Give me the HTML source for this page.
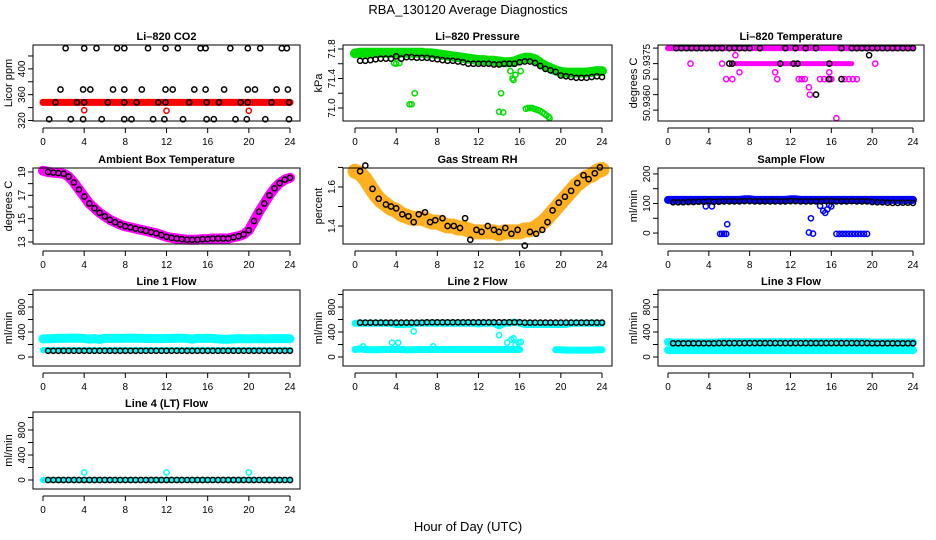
<!DOCTYPE html>
<html><head><meta charset="utf-8">
<style>
body{margin:0;background:#fff;}
svg{display:block;font-family:"Liberation Sans",Arial,sans-serif;}
</style></head>
<body>
<svg id="c" width="936" height="540" viewBox="0 0 936 540">
<text x="468" y="14" text-anchor="middle" font-size="13">RBA_130120  Average Diagnostics</text>
<text x="468" y="531" text-anchor="middle" font-size="13">Hour of Day (UTC)</text>
</svg>
<script>
// ---------- data ----------
const xTicks=[0,4,8,12,16,20,24];
const H=[0,0.5,1,1.5,2,2.5,3,3.5,4,4.5,5,5.5,6,6.5,7,7.5,8,8.5,9,9.5,10,10.5,11,11.5,12,12.5,13,13.5,14,14.5,15,15.5,16,16.5,17,17.5,18,18.5,19,19.5,20,20.5,21,21.5,22,22.5,23,23.5,24];
// CO2
const co2Red=[348,348,348,348,348,348,348,348,348,348,348,348,348,348,348,348,348,348,348,348,348,348,348,348,348,348,348,348,348,348,348,348,348,348,348,348,348,348,348,348,348,348,348,348,348,348,348,348,348];
const co2RedOutT=[4,12,20];
const co2RedOutV=[336,335,335];
const co2BlackT=[2.2,4.0,5.2,7.2,7.9,10.2,11.9,13.1,15.3,15.8,18.2,19.9,21.1,23.2,23.7, 1.7,3.9,4.6,6.8,7.9,9.6,11.9,12.6,14.7,15.8,17.6,19.9,20.6,22.7,23.8, 1.2,3.3,4.0,6.3,7.9,9.1,11.2,11.9,14.2,15.9,17.1,19.2,19.9,22.2,23.9, 0.6,2.7,3.9,5.7,7.9,8.6,10.7,11.8,13.6,15.9,16.6,18.7,19.8,21.6,23.9];
const co2BlackV=[432,432,432,432,432,432,432,432,432,432,432,432,432,432,432, 368,368,368,368,368,368,368,368,368,368,368,368,368,368,368, 348,348,348,348,348,348,348,348,348,348,348,348,348,348,348, 322,322,322,322,322,322,322,322,322,322,322,322,322,322,322];
// Pressure
const presGreen=[71.74,71.75,71.75,71.75,71.75,71.75,71.75,71.75,71.75,71.75,71.75,71.75,71.75,71.75,71.74,71.74,71.73,71.72,71.71,71.70,71.69,71.68,71.67,71.66,71.65,71.65,71.64,71.64,71.63,71.62,71.62,71.63,71.66,71.68,71.68,71.66,71.61,71.57,71.54,71.51,71.49,71.48,71.48,71.48,71.48,71.48,71.49,71.50,71.50];
const presBlack=[null,71.64,71.64,71.65,71.66,71.67,71.67,71.67,71.70,71.67,71.69,71.69,71.68,71.68,71.68,71.67,71.66,71.65,71.64,71.64,71.63,71.62,71.60,71.60,71.60,71.60,71.60,71.59,71.59,71.60,71.60,71.60,71.62,71.63,71.63,71.61,71.57,71.53,71.51,71.49,71.44,71.43,71.42,71.41,71.41,71.41,71.42,71.43,71.42];
const presOutT=[3.8,4.0,4.3,5.3,5.5,5.8,14.0,14.2,14.4,15.1,15.3,15.4,15.6,16.1,16.6,16.8,17.0,17.2,17.4,17.6,17.8,18.0,18.2,18.4,18.6,18.8,18.9];
const presOutV=[71.61,71.60,71.61,71.05,71.05,71.20,70.95,71.20,70.94,71.50,71.40,71.38,71.45,71.50,70.99,71.00,71.00,71.00,70.99,70.98,70.97,70.96,70.94,70.92,70.90,70.88,70.86];
// Li-820 temperature
const tempTopMag=[50.9375,50.9375,50.9375,50.9375,50.9375,50.9375,50.9375,50.9375,50.9375,50.9375,50.9375,50.9375,50.9375,50.9375,50.9375,50.9375,50.9375,50.9375,50.9375,50.9375,50.9375,50.9375,50.9375,50.9375,50.9375,50.9375,50.9375,50.9375,50.9375,50.9375,50.9375,50.9375,50.9375,50.9375,50.9375,50.9375,50.9375,50.9375,50.9375,50.9375,50.9375,50.9375,50.9375,50.9375,50.9375,50.9375,50.9375,50.9375,50.9375];
const tempMidMag=[null,null,null,null,null,null,null,null,null,null,null,null,null,50.9370,50.9370,50.9370,50.9370,50.9370,50.9370,50.9370,50.9370,50.9370,50.9370,50.9370,50.9370,50.9370,50.9370,50.9370,50.9370,50.9370,50.9370,50.9370,50.9370,50.9370,50.9370,50.9370,50.9370,null,null,null,null,null,null,null,null,null,null,null,null];
const tempMagT=[6.6,2.2,5.3,20.3,7.0,10.5,15.8,5.7,6.3,10.7,12.8,13.1,13.4,14.9,15.3,15.7,16.0,17.3,17.7,18.1,18.5,13.8,13.9,16.5];
const tempMagV=[50.93727,50.9370,50.9370,50.9370,50.93672,50.93672,50.93672,50.9365,50.9365,50.9365,50.9365,50.9365,50.9365,50.9365,50.9365,50.9365,50.9365,50.9365,50.9365,50.9365,50.9365,50.93624,50.9360,50.93524];
const tempBlackT=[0.8,1.3,1.8,2.3,2.8,3.3,3.8,4.3,4.8,5.3,6.0,6.5,7.0,7.5,8.0,9.0,11.5,12.5,13.5,14.5,17.0,18.0,18.5,19.0,19.5,20.0,20.5,21.0,21.5,22.0,22.5,23.0,23.5,24.0, 19.7, 6.0,6.3,11.0,12.3,12.7,15.8, 15.8,17.0, 14.5];
const tempBlackV=[50.9375,50.9375,50.9375,50.9375,50.9375,50.9375,50.9375,50.9375,50.9375,50.9375,50.9375,50.9375,50.9375,50.9375,50.9375,50.9375,50.9375,50.9375,50.9375,50.9375,50.9375,50.9375,50.9375,50.9375,50.9375,50.9375,50.9375,50.9375,50.9375,50.9375,50.9375,50.9375,50.9375,50.9375, 50.93727, 50.9370,50.9370,50.9370,50.9370,50.9370,50.9370, 50.9365,50.9365, 50.9360];
// Ambient box temperature
const ambient=[19.1,19.0,18.95,18.9,18.85,18.6,18.1,17.5,16.9,16.3,15.9,15.5,15.2,14.9,14.7,14.5,14.35,14.25,14.15,14.05,13.95,13.85,13.75,13.6,13.45,13.35,13.3,13.25,13.2,13.2,13.2,13.25,13.25,13.3,13.3,13.3,13.3,13.4,13.5,13.65,14.0,14.8,15.6,16.3,17.0,17.6,18.05,18.35,18.5];
// Gas stream RH
const rhBand=[1.68,1.67,1.64,1.60,1.56,1.53,1.51,1.49,1.48,1.46,1.45,1.44,1.44,1.44,1.43,1.42,1.42,1.41,1.40,1.40,1.39,1.39,1.38,1.37,1.37,1.37,1.37,1.37,1.36,1.37,1.37,1.37,1.37,1.38,1.38,1.39,1.41,1.43,1.46,1.49,1.52,1.55,1.58,1.61,1.63,1.65,1.66,1.68,1.69];
const rhBlackT=[0.5,1,1.7,2.3,3,3.5,4,4.6,5.2,5.7,6.2,6.8,7.3,7.8,8.5,9,9.6,10.2,10.7,11.2,11.8,12.3,12.9,13.5,14,14.6,15.2,15.8,16.5,17,17.6,18.2,18.7,19.2,19.8,20.4,21,21.6,22.2,22.7,23.3,23.8];
const rhBlackV=[1.68,1.71,1.59,1.54,1.51,1.50,1.49,1.46,1.45,1.42,1.46,1.47,1.42,1.43,1.44,1.40,1.40,1.39,1.44,1.33,1.38,1.37,1.40,1.38,1.37,1.39,1.36,1.38,1.30,1.37,1.36,1.38,1.42,1.48,1.52,1.55,1.58,1.62,1.66,1.64,1.67,1.70];
// Sample flow
const sampleBlue=[112,112,112,112,112,112,112,112,112,112,112,112,112,112,112,114,114,112,112,112,112,112,112,112,114,114,112,112,112,112,112,112,112,112,112,112,112,112,112,112,112,112,112,112,112,112,112,112,112];
const sampleBlack=[null,104,104,104,105,105,106,106,108,106,106,107,107,107,107,108,108,107,107,107,107,107,107,107,108,108,107,107,107,107,107,108,108,107,107,107,108,107,107,107,105,104,104,103,102,102,103,103,102];
const sampleOutT=[3.7,4.3,5.1,5.3,5.5,5.7,5.8,13.8,14.0,14.2,14.9,15.2,15.4,15.6,15.8,16.0,16.5,16.8,17.1,17.4,17.7,18.0,18.3,18.6,18.9,19.2,19.5];
const sampleOutV=[90,90,-3,-3,-3,-3,30,2,50,-2,92,75,68,80,95,90,-3,-3,-3,-3,-3,-3,-3,-3,-3,-3,-3];
// Line 1
const l1Hi=[290,292,295,300,298,300,302,300,298,285,295,280,300,298,300,298,300,302,300,298,296,296,294,294,296,298,300,300,298,285,300,296,300,296,290,285,285,290,295,292,290,292,294,290,292,294,295,295,292];
const l1Lo=[110,110,110,110,110,110,110,110,110,110,110,110,110,110,110,110,110,110,110,110,110,110,110,110,110,110,110,110,110,110,110,110,110,110,110,110,110,110,110,110,110,110,110,110,110,110,110,110,110];
const l1Black=[null,100,100,100,100,100,100,100,100,100,100,100,100,100,100,100,100,100,100,100,100,100,100,100,100,100,100,100,100,100,100,100,100,100,100,100,100,100,100,100,100,100,100,100,100,100,100,100,100];
// Line 2
const l2Hi=[540,540,540,540,540,540,540,540,520,520,525,525,540,540,540,540,540,540,540,540,540,540,540,540,530,540,540,540,500,540,540,560,540,520,520,520,520,520,520,520,520,520,540,540,540,540,540,540,540];
const l2Lo=[120,130,120,115,115,120,120,120,120,120,115,115,120,120,120,120,120,120,120,120,120,120,120,120,120,120,120,120,120,120,120,120,120,null,null,null,null,null,null,115,115,110,110,110,110,110,110,115,115];
const l2Black=[null,550,550,550,550,550,550,550,550,550,550,550,550,550,555,555,555,555,555,555,555,555,555,555,555,555,555,555,555,555,555,555,555,550,550,550,550,550,550,550,550,550,550,550,550,550,550,550,550];
const l2OutT=[0.8,3.6,4.2,5.7,7.6,14.0,14.8,15.2,15.4,15.6,15.9,16.1];
const l2OutV=[170,230,230,410,170,350,230,280,300,200,230,240];
// Line 3
const l3Hi=[240,230,230,230,230,230,230,230,230,230,235,235,235,235,235,235,235,235,235,235,235,235,235,235,235,235,235,235,235,235,235,235,235,235,235,235,235,235,235,235,230,230,230,230,230,230,230,230,230];
const l3Lo=[110,110,110,110,110,110,110,110,110,110,110,110,110,110,110,110,110,110,110,110,110,110,110,110,110,110,110,110,110,110,110,110,110,110,110,110,110,110,110,110,110,110,110,110,110,110,110,110,110];
const l3Black=[null,220,220,220,220,220,220,220,220,220,222,222,222,222,222,222,222,222,222,222,222,222,222,222,222,222,222,222,222,222,222,222,222,222,222,222,222,222,222,222,220,220,220,220,220,220,220,220,220];
// Line 4
const l4Cyan=[0,0,0,0,0,0,0,0,0,0,0,0,0,0,0,0,0,0,0,0,0,0,0,0,0,0,0,0,0,0,0,0,0,0,0,0,0,0,0,0,0,0,0,0,0,0,0,0,0];
const l4Black=[null,0,0,0,0,0,0,0,0,0,0,0,0,0,0,0,0,0,0,0,0,0,0,0,0,0,0,0,0,0,0,0,0,0,0,0,0,0,0,0,0,0,0,0,0,0,0,0,0];
const l4OutT=[4,12,20];
const l4OutV=[120,120,120];
// tick values
const co2Ticks=[320,340,360,380,400,420], co2Labels=[320,360,400];
const presTicks=[71.0,71.2,71.4,71.6,71.8], presLabels=['71.0','71.4','71.8'];
const tempTicks=[50.9375,50.9370,50.9365,50.9360,50.9355];
const ambTicks=[13,14,15,16,17,18,19], ambLabels=[13,15,17,19];
const rhTicks=[1.4,1.5,1.6,1.7], rhLabels=[1.4,1.6];
const sampTicks=[0,50,100,150,200], sampLabels=[0,100,200];
const flowTicks=[0,200,400,600,800,1000], flowLabels=[0,400,800];

// ---------- drawing ----------
const NS='http://www.w3.org/2000/svg';
const svg=document.getElementById('c');
function mk(tag,attrs,parent){const e=document.createElementNS(NS,tag);for(const k in attrs)e.setAttribute(k,attrs[k]);(parent||svg).appendChild(e);return e;}
const cols=[{l:33,r:300,x0:43,x24:290},{l:343,r:612,x0:355,x24:602},{l:658,r:924,x0:668,x24:913}];
const rows=[{t:45,b:121},{t:168,b:244},{t:290,b:366},{t:412,b:489}];

function panel(name,title,ylab,ci,ri,vmin,vmax,ticks,labels,labelText){
  const c=cols[ci],r=rows[ri];
  const g=mk('g',{});
  
  
  const X=t=>c.x0+(c.x24-c.x0)*t/24;
  const Y=v=>r.b-(v-vmin)/(vmax-vmin)*(r.b-r.t);
  const tt=mk('text',{x:(c.l+c.r)/2,y:r.t-5,'text-anchor':'middle','font-size':11,'font-weight':'bold'},g);
  tt.textContent=title;
  
  
  const yl=mk('text',{x:0,y:0,'text-anchor':'middle','font-size':11,transform:`translate(${c.l-21},${(r.t+r.b)/2}) rotate(-90)`},g);
  yl.textContent=ylab;
  
  
  const plot=mk('g',{},g);
  
  
  const box=mk('rect',{x:c.l,y:r.t,width:c.r-c.l,height:r.b-r.t,fill:'none',stroke:'#000','stroke-width':1},g);
  
  
  // x axis
  const xa=mk('g',{},g);
  
  
  mk('line',{x1:X(0),x2:X(24),y1:r.b+7,y2:r.b+7,stroke:'#000'},xa);
  xTicks.forEach(t=>{
    mk('line',{x1:X(t),x2:X(t),y1:r.b+7,y2:r.b+12,stroke:'#000'},xa);
    const tx=mk('text',{x:X(t),y:r.b+24,'text-anchor':'middle','font-size':10},xa);
    tx.textContent=t;
    
    
  });
  // y axis
  const ya=mk('g',{},g);
  
  
  ticks.forEach(v=>mk('line',{x1:c.l-5,x2:c.l,y1:Y(v),y2:Y(v),stroke:'#000'},ya));
  (labels||[]).forEach(v=>{
    const tx=mk('text',{x:0,y:0,'text-anchor':'middle','font-size':10,transform:`translate(${c.l-8},${Y(+v)}) rotate(-90)`},ya);
    tx.textContent=v;
    
    
  });
  (labelText||[]).forEach(p=>{
    const tx=mk('text',{x:0,y:0,'text-anchor':'middle','font-size':10,transform:`translate(${c.l-8},${p[1]}) rotate(-90)`},ya);
    tx.textContent=p[0];
    
    
  });
  return {plot,X,Y};
}
function band(P,name,vals,color,w){
  let segs=[],cur=[];
  vals.forEach((v,i)=>{if(v===null){if(cur.length)segs.push(cur);cur=[];}else cur.push(P.X(H[i]).toFixed(1)+','+P.Y(v).toFixed(1));});
  if(cur.length)segs.push(cur);
  segs.forEach(s=>{
    const pl=mk('polyline',{points:s.length>1?s.join(' '):s[0]+' '+s[0],fill:'none',stroke:color,'stroke-width':w,'stroke-linecap':'round','stroke-linejoin':'round'},P.plot);
    
    
  });
}
function pts(P,name,T,V,color){
  V.forEach((v,i)=>{
    if(v===null)return;
    const ci=mk('circle',{cx:P.X(T[i]).toFixed(1),cy:P.Y(v).toFixed(1),r:2.6,fill:'none',stroke:color,'stroke-width':1.5},P.plot);
    
    
  });
}
const RED='#ff0000',GRN='#00dd00',MAG='#ff00ff',BLU='#0000ff',CY='#00ffff',OR='#ffb020';

// Panel 1 CO2
let P=panel('co2-panel','Li\u2013820 CO2','Licor ppm',0,0,319.2,437,co2Ticks,co2Labels);
band(P,'co2-red-band',co2Red,RED,7);
pts(P,'co2-red-point',H,co2Red,RED);
pts(P,'co2-red-outlier',co2RedOutT,co2RedOutV,RED);
pts(P,'co2-black-point',co2BlackT,co2BlackV,'#000');
// Panel 2 pressure
P=panel('pressure-panel','Li\u2013820 Pressure','kPa',1,0,70.824,71.854,presTicks,presLabels);
band(P,'pressure-green-band',presGreen,GRN,10);
pts(P,'pressure-green-outlier',presOutT,presOutV,GRN);
pts(P,'pressure-black-point',H,presBlack,'#000');
// Panel 3 temperature
P=panel('li820-temperature-panel','Li\u2013820 Temperature','degrees C',2,0,50.93515,50.9376,tempTicks,null,[['50.9375',62],['50.9360',103]]);
band(P,'temp-magenta-band',tempTopMag,MAG,6);
band(P,'temp-magenta-mid-band',tempMidMag,MAG,5);
pts(P,'temp-magenta-point',tempMagT,tempMagV,MAG);
pts(P,'temp-black-point',tempBlackT,tempBlackV,'#000');
// Panel 4 ambient
P=panel('ambient-temperature-panel','Ambient Box Temperature','degrees C',0,1,12.83,19.34,ambTicks,ambLabels);
band(P,'ambient-magenta-band',ambient,MAG,10);
pts(P,'ambient-black-point',H.slice(1),ambient.slice(1),'#000');
// Panel 5 RH
P=panel('gas-rh-panel','Gas Stream RH','percent',1,1,1.308,1.697,rhTicks,rhLabels);
band(P,'rh-orange-band',rhBand,OR,15);
pts(P,'rh-black-point',rhBlackT,rhBlackV,'#000');
// Panel 6 sample flow
P=panel('sample-flow-panel','Sample Flow','ml/min',2,1,-37,220,sampTicks,sampLabels);
band(P,'sample-blue-band',sampleBlue,BLU,8);
pts(P,'sample-blue-outlier',sampleOutT,sampleOutV,BLU);
pts(P,'sample-black-point',H,sampleBlack,'#000');
// Panel 7 line1
P=panel('line1-flow-panel','Line 1 Flow','ml/min',0,2,-144,1072,flowTicks,flowLabels);
band(P,'line1-cyan-high',l1Hi,CY,9);
band(P,'line1-cyan-low',l1Lo,CY,6);
pts(P,'line1-black-point',H,l1Black,'#000');
// Panel 8 line2
P=panel('line2-flow-panel','Line 2 Flow','ml/min',1,2,-144,1072,flowTicks,flowLabels);
band(P,'line2-cyan-high',l2Hi,CY,7);
band(P,'line2-cyan-low',l2Lo,CY,7);
pts(P,'line2-cyan-outlier',l2OutT,l2OutV,CY);
pts(P,'line2-black-point',H,l2Black,'#000');
// Panel 9 line3
P=panel('line3-flow-panel','Line 3 Flow','ml/min',2,2,-144,1072,flowTicks,flowLabels);
band(P,'line3-cyan-high',l3Hi,CY,8);
band(P,'line3-cyan-low',l3Lo,CY,8);
pts(P,'line3-black-point',H,l3Black,'#000');
// Panel 10 line4
P=panel('line4-flow-panel','Line 4 (LT) Flow','ml/min',0,3,-144,1088,flowTicks,flowLabels);
band(P,'line4-cyan-band',l4Cyan,CY,6);
pts(P,'line4-cyan-outlier',l4OutT,l4OutV,CY);
pts(P,'line4-black-point',H,l4Black,'#000');
</script>
</body></html>
